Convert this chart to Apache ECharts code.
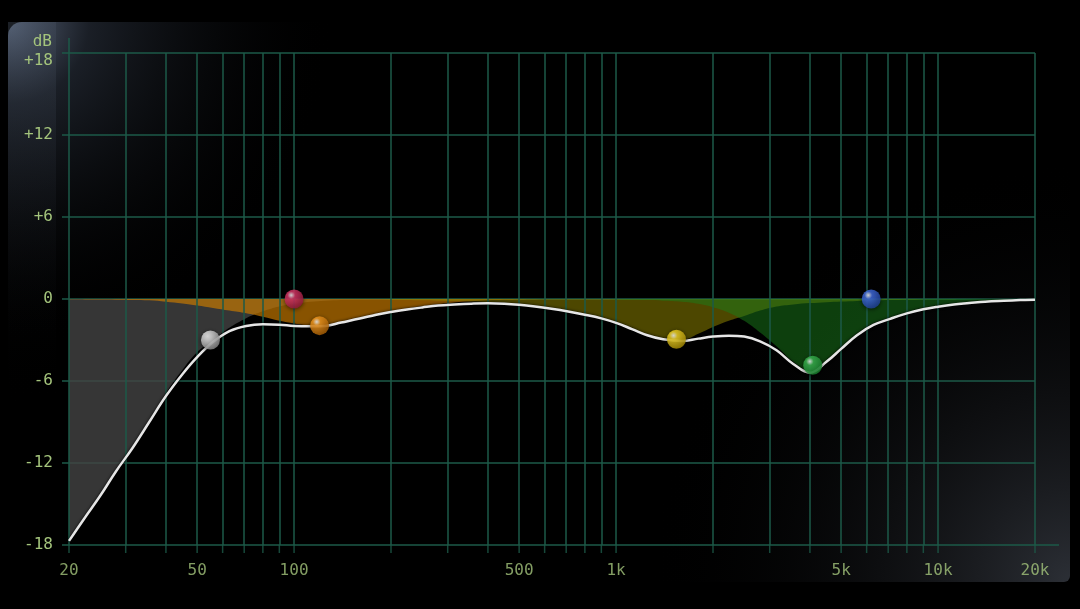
<!DOCTYPE html>
<html><head><meta charset="utf-8">
<script src="https://cdn.jsdelivr.net/npm/echarts@6/dist/echarts.min.js"></script>
<style>html,body{margin:0;padding:0;background:#000;}#c{width:1080px;height:609px;}</style>
</head><body><div id="c"></div>
<script>
// ---- data, 1/6-octave frequencies ----
const freqs = [20,22.4,25,28,31.5,35.5,40,45,50,56,63,71,80,90,100,112,125,140,160,180,200,224,250,280,315,355,400,450,500,560,630,710,800,900,1000,1120,1250,1400,1600,1800,2000,2240,2500,2800,3150,3550,4000,4500,5000,5600,6300,7100,8000,9000,10000,11200,12500,14000,16000,18000,20000];
const totalResponse = [-17.7,-16.0,-14.4,-12.6,-10.9,-9.0,-7.1,-5.5,-4.25,-3.15,-2.35,-1.97,-1.85,-1.88,-1.97,-2.0,-1.97,-1.72,-1.43,-1.15,-0.95,-0.77,-0.62,-0.48,-0.4,-0.34,-0.31,-0.34,-0.42,-0.55,-0.72,-0.92,-1.15,-1.42,-1.75,-2.2,-2.65,-2.95,-3.08,-2.9,-2.75,-2.68,-2.75,-3.1,-3.75,-4.75,-5.4,-4.6,-3.65,-2.65,-1.9,-1.45,-1.05,-0.75,-0.56,-0.4,-0.3,-0.2,-0.13,-0.08,-0.05];
const hpfBand = [-17.6,-15.9,-14.3,-12.5,-10.8,-8.9,-6.9,-5.2,-3.9,-3.0,-2.1,-1.4,-0.9,-0.55,-0.35,-0.2,-0.12,-0.07,-0.04,-0.02,0,0,0,0,0,0,0,0,0,0,0,0,0,0,0,0,0,0,0,0,0,0,0,0,0,0,0,0,0,0,0,0,0,0,0,0,0,0,0,0,0];
const lowBand = [-0.02,-0.03,-0.04,-0.05,-0.07,-0.1,-0.2,-0.33,-0.48,-0.65,-0.85,-1.05,-1.3,-1.6,-1.8,-1.95,-1.97,-1.72,-1.4,-1.1,-0.9,-0.7,-0.53,-0.38,-0.26,-0.17,-0.1,-0.06,-0.03,-0.01,0,0,0,0,0,0,0,0,0,0,0,0,0,0,0,0,0,0,0,0,0,0,0,0,0,0,0,0,0,0,0];
const midBand = [0,0,0,0,0,0,0,0,0,0,0,0,0,0,0,0,0,0,0,0,-0.05,-0.07,-0.09,-0.12,-0.15,-0.18,-0.22,-0.27,-0.37,-0.5,-0.68,-0.9,-1.13,-1.4,-1.7,-2.15,-2.6,-2.9,-3.02,-2.55,-2.05,-1.6,-1.25,-0.85,-0.55,-0.4,-0.3,-0.23,-0.18,-0.14,-0.1,-0.07,-0.05,-0.03,-0.02,-0.01,0,0,0,0,0];
const presenceBand = [0,0,0,0,0,0,0,0,0,0,0,0,0,0,0,0,0,0,0,0,0,0,0,0,0,0,0,0,0,0,0,0,0,0,-0.03,-0.05,-0.08,-0.12,-0.2,-0.35,-0.6,-1.0,-1.6,-2.45,-3.45,-4.6,-5.25,-4.55,-3.55,-2.55,-1.8,-1.38,-1.0,-0.72,-0.54,-0.39,-0.29,-0.2,-0.13,-0.08,-0.05];

const handleFreqs = [55, 100, 120, 1540, 4080, 6200];
const handleGains = [-3.0, 0, -1.95, -2.95, -4.85, 0];
const handleColors = ['#e4e4e4', '#e0386a', '#f59a20', '#f5d828', '#3cb852', '#4470e6'];
const handleShades = ['#7a7a7a', '#8a1535', '#a05800', '#a08400', '#157a2a', '#1a3a90'];

const gridFreqs = [20,30,40,50,60,70,80,90,100,200,300,400,500,600,700,800,900,1000,2000,3000,4000,5000,6000,7000,8000,9000,10000,20000];
const xLabelFreqs = [20,50,100,500,1000,5000,10000,20000];
const xLabelTexts = ['20','50','100','500','1k','5k','10k','20k'];
const yTicks = [-18,-12,-6,0,6,12,18];
const yTickLabels = ['-18','-12','-6','0','+6','+12','+18'];

// ---- styles ----
const GRID = '#1d5a48';
const TXT = '#a4c47c';
const FONT = '"DejaVu Sans Mono", monospace';

function pairs(arr){ return freqs.map((f,i)=>[f, arr[i]]); }
function bandSeries(name, arr, color, z){
  return {name, type:'line', data:pairs(arr), smooth:0.4, symbol:'none', silent:true, z,
    lineStyle:{width:0}, areaStyle:{color, opacity:1}};
}

const chart = echarts.init(document.getElementById('c'), null, {renderer:'canvas'});
const panel = {x:8, y:22, width:1062, height:560, r:[14,6,6,6]};
chart.setOption({
  backgroundColor:'#000',
  animation:false,
  grid:{left:69, right:45, top:53, bottom:64},
  graphic:[
    {type:'rect', z:-20, silent:true, shape:panel, style:{fill:'#000'}},
    {type:'rect', z:-19, silent:true, shape:panel, style:{fill:{type:'radial', x:0, y:0, r:0.58,
      colorStops:[{offset:0,color:'rgba(105,120,145,0.9)'},{offset:0.25,color:'rgba(48,56,70,0.55)'},{offset:1,color:'rgba(0,0,0,0)'}]}}},
    {type:'rect', z:-19, silent:true, shape:{x:8,y:22,width:48,height:380}, style:{fill:{type:'linear', x:0, y:0, x2:1, y2:1,
      colorStops:[{offset:0,color:'rgba(70,80,96,0.4)'},{offset:1,color:'rgba(0,0,0,0)'}]}}},
    {type:'rect', z:-19, silent:true, shape:panel, style:{fill:{type:'radial', x:1, y:1, r:0.75,
      colorStops:[{offset:0,color:'rgba(80,86,98,0.55)'},{offset:1,color:'rgba(0,0,0,0)'}]}}},
    {type:'line', z:1, silent:true, shape:{x1:69,y1:38,x2:69,y2:53}, style:{stroke:GRID, lineWidth:1.5}},
    {type:'line', z:1, silent:true, shape:{x1:1035,y1:545,x2:1059,y2:545}, style:{stroke:GRID, lineWidth:1.5}}
  ],
  xAxis:{type:'log', logBase:10, min:20, max:20000,
    axisLine:{show:false}, axisTick:{show:false}, axisLabel:{show:false}, splitLine:{show:false}},
  yAxis:{type:'value', min:-18, max:18, interval:6,
    name:'dB', nameLocation:'end', nameGap:11, nameMoveOverlap:false,
    nameTextStyle:{color:TXT, fontFamily:FONT, fontSize:16, align:'right', verticalAlign:'middle', padding:[0,17,0,0]},
    axisLine:{show:false},
    axisTick:{show:true, length:7, lineStyle:{color:GRID, width:1.5}},
    axisLabel:{color:TXT, fontFamily:FONT, fontSize:16, margin:16, verticalAlignMaxLabel:'top',
      formatter:v=>{const k=yTicks.indexOf(v); return k>=0?yTickLabels[k]:'';}},
    splitLine:{show:true, lineStyle:{color:GRID, width:1.5}}},
  series:[
    {name:'grid', type:'line', data:[], z:1, silent:true,
      markLine:{silent:true, symbol:['none','none'], label:{show:false},
        lineStyle:{color:GRID, width:1.5, type:'solid'},
        data:gridFreqs.map(f=>({xAxis:f}))}},
    {name:'ticks', type:'scatter', z:1, silent:true, clip:false,
      data:gridFreqs.map(f=>[f,-18]), symbol:'rect', symbolSize:[1.5,8], symbolOffset:[0,4],
      itemStyle:{color:GRID}},
    {name:'xlabels', type:'scatter', z:1, silent:true, clip:false, symbolSize:0,
      data:xLabelFreqs.map((f,i)=>({value:[f,-18], name:xLabelTexts[i]})),
      label:{show:true, position:'bottom', distance:18, formatter:p=>p.name,
        color:TXT, fontFamily:FONT, fontSize:16}},
    bandSeries('HPF', hpfBand, 'rgba(68,68,68,0.8)', 2),
    bandSeries('Low', lowBand, 'rgba(200,122,0,0.68)', 3),
    bandSeries('Mid', midBand, 'rgba(140,130,0,0.55)', 3),
    bandSeries('Presence', presenceBand, 'rgba(25,125,25,0.5)', 3),
    {name:'Response', type:'line', data:pairs(totalResponse), smooth:0.4, symbol:'none', silent:true, z:5,
      lineStyle:{color:'#e6e6e6', width:2.5, shadowColor:'rgba(0,0,0,0.9)', shadowBlur:3}},
    {name:'Bands', type:'scatter', z:6, silent:true, symbolSize:19,
      data:handleFreqs.map((f,i)=>({value:[f, handleGains[i]], itemStyle:{
        color:{type:'radial', x:0.35, y:0.3, r:0.8, colorStops:[
          {offset:0,color:'#ffffff'},{offset:0.25,color:handleColors[i]},{offset:1,color:handleShades[i]}]},
        shadowColor:'rgba(0,0,0,0.7)', shadowBlur:4, shadowOffsetY:1}}))}
  ]
});
</script></body></html>
